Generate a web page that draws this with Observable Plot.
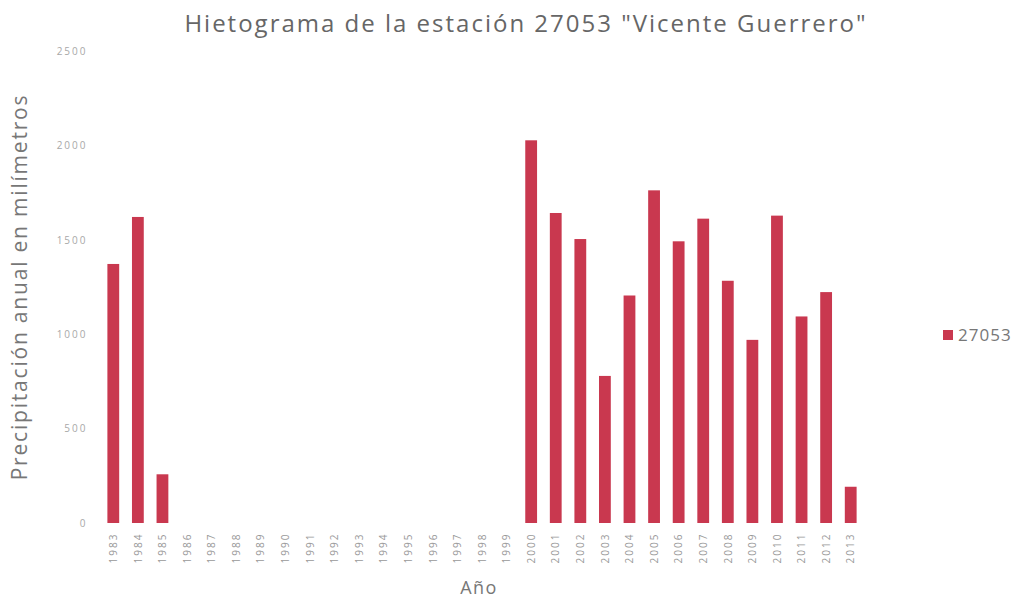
<!DOCTYPE html>
<html>
<head>
<meta charset="utf-8">
<script src="https://cdn.jsdelivr.net/npm/d3@7"></script>
<script src="https://cdn.jsdelivr.net/npm/@observablehq/plot@0.6"></script>
<style>
  body { margin: 0; background: #fff; font-family: "Open Sans", sans-serif; }
  #wrap { position: relative; width: 1016px; height: 601px; overflow: hidden; }
  #title { position: absolute; left: 0; top: 6px; width: 1052px; text-align: center; font-size: 24px; letter-spacing: 2px; color: #666; white-space: nowrap; }
  #ytitle { position: absolute; left: 19px; top: 287px; transform: translate(-50%, -50%) rotate(-90deg); white-space: nowrap; font-size: 21px; letter-spacing: 1.8px; color: #777; }
  #xtitle { position: absolute; left: 479px; top: 587px; transform: translate(-50%, -50%); font-size: 18px; letter-spacing: 1.5px; color: #777; }
  #legend { position: absolute; left: 943px; top: 323px; font-size: 17px; letter-spacing: 1px; color: #777; display: flex; align-items: center; }
  #legend span.sw { display: inline-block; width: 10px; height: 10px; background: #c9384f; margin-right: 5px; }
  #chart { position: absolute; left: 0; top: 0; }
  #chart svg g[aria-label="y-axis tick label"] text,
  #chart svg g[aria-label="x-axis tick label"] text { letter-spacing: 2px; }
</style>
</head>
<body>
<div id="wrap">
  <div id="chart"></div>
  <div id="title">Hietograma de la estación 27053 "Vicente Guerrero"</div>
  <div id="ytitle">Precipitación anual en milímetros</div>
  <div id="xtitle">Año</div>
  <div id="legend"><span class="sw"></span>27053</div>
</div>
<script>
const years = ["1983","1984","1985","1986","1987","1988","1989","1990","1991","1992","1993","1994","1995","1996","1997","1998","1999","2000","2001","2002","2003","2004","2005","2006","2007","2008","2009","2010","2011","2012","2013"];
const precip = [1372,1621,258,null,null,null,null,null,null,null,null,null,null,null,null,null,null,2027,1642,1504,779,1205,1762,1492,1612,1283,970,1628,1094,1223,192];
const yTicks = [0,500,1000,1500,2000,2500];
const station = "27053";

const data = years.map((y, i) => ({year: y, value: precip[i]})).filter(d => d.value != null);

const chart = Plot.plot({
  width: 1016,
  height: 601,
  marginLeft: 101,
  marginRight: 153,
  marginTop: 51,
  marginBottom: 78,
  style: { fontFamily: "'Open Sans', sans-serif", background: "white" },
  x: { type: "band", domain: years, paddingInner: 0.52, paddingOuter: 0.26, round: false, label: null },
  y: { domain: [0, 2500], label: null },
  marks: [
    Plot.barY(data, { x: "year", y: "value", fill: "#c9384f" }),
    Plot.axisY({ ticks: yTicks, tickFormat: d3.format("d"), tickSize: 0, tickPadding: 14, fontSize: 10, color: "#a8a8a8", label: null }),
    Plot.axisX({ tickSize: 0, tickPadding: 9, tickRotate: -90, fontSize: 10, color: "#999", label: null })
  ]
});
document.getElementById("chart").appendChild(chart);
</script>
</body>
</html>
